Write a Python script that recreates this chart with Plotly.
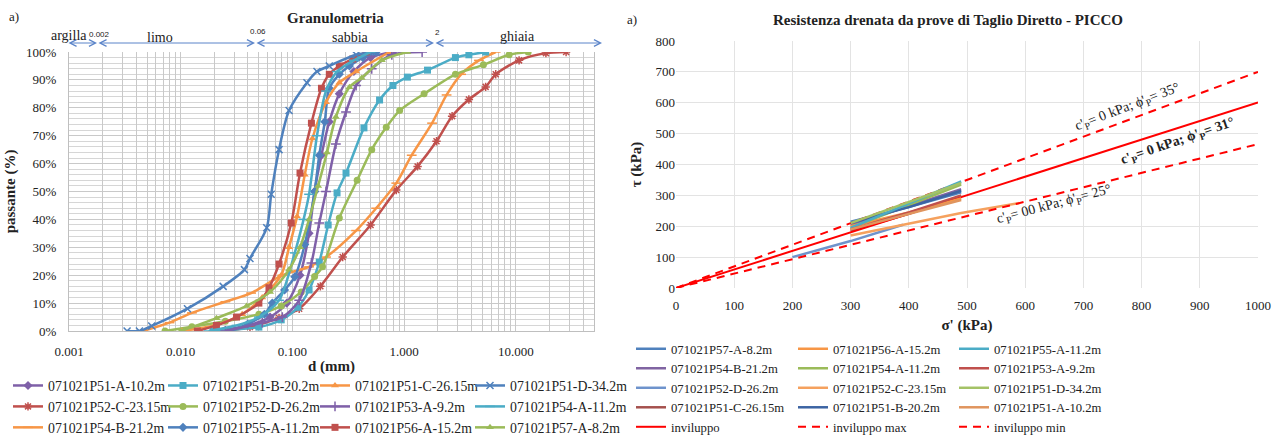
import plotly.graph_objects as go

# ---------------- Granulometria (left) : d (mm) vs passante (%) ----------------
g_names = ["071021P51-A-10.2m", "071021P51-B-20.2m", "071021P51-C-26.15m", "071021P51-D-34.2m",
           "071021P52-C-23.15m", "071021P52-D-26.2m", "071021P53-A-9.2m", "071021P54-A-11.2m",
           "071021P54-B-21.2m", "071021P55-A-11.2m", "071021P56-A-15.2m", "071021P57-A-8.2m"]

d_P51A = [0.0200, 0.0398, 0.0631, 0.0891, 0.117, 0.141, 0.158, 0.182, 0.214, 0.263, 0.355, 0.501, 0.794]
p_P51A = [0, 2, 5, 10, 20, 35, 50, 63, 75, 85, 93, 98, 100]
d_P51B = [0.0195, 0.0501, 0.0794, 0.112, 0.141, 0.174, 0.209, 0.251, 0.302, 0.437, 0.603, 0.794, 1.07, 1.62, 2.88, 3.80, 5.37]
p_P51B = [0, 1.4, 4, 8.5, 14.7, 24.7, 38, 49.5, 56.6, 72.8, 82.8, 88, 91, 93.5, 98, 99, 100]
d_P51C = [0.0102, 0.0200, 0.0355, 0.0537, 0.0794, 0.0933, 0.110, 0.129, 0.151, 0.200, 0.263, 0.372, 0.741]
p_P51C = [0, 2, 6, 12, 20, 30, 41, 56, 69, 82, 89, 93, 100]
d_P51D = [0.00331, 0.00427, 0.00550, 0.0115, 0.0240, 0.0372, 0.0417, 0.0589, 0.0646, 0.0759, 0.0933, 0.135, 0.166, 0.214, 0.372, 0.562]
p_P51D = [0, 0, 1.8, 8, 16, 22, 26, 37, 49, 65, 79, 89, 93, 95, 99, 100]
d_P52C = [0.0251, 0.0417, 0.0759, 0.115, 0.178, 0.282, 0.501, 0.851, 1.32, 1.95, 2.69, 3.80, 5.37, 6.61, 10.7, 18.6, 28.2]
p_P52C = [0, 1.4, 4.7, 8, 16, 26.5, 38, 50.5, 59, 68, 77, 83, 87.5, 92, 97, 99.6, 100]
d_P52D = [0.00724, 0.0126, 0.0251, 0.0501, 0.0794, 0.120, 0.158, 0.186, 0.263, 0.380, 0.513, 0.692, 0.912, 1.51, 2.88, 5.13, 8.71, 12.9]
p_P52D = [0, 1.5, 3.5, 6, 9, 14, 19.5, 23, 40.5, 54, 65, 73, 79, 85, 92, 95.4, 99, 100]
d_P53A = [0.0251, 0.0537, 0.0813, 0.115, 0.148, 0.174, 0.200, 0.245, 0.302, 0.372, 0.513, 0.776, 1.45]
p_P53A = [0, 3, 5, 11, 24.4, 38.7, 50, 67, 78.5, 88, 94, 99, 100]
d_P54A = [0.0178, 0.0316, 0.0501, 0.0759, 0.105, 0.126, 0.141, 0.166, 0.200, 0.251, 0.355, 0.501]
p_P54A = [0, 2, 5, 11, 28, 40, 49, 70, 86, 93, 97, 100]
d_P54B = [0.00457, 0.00794, 0.0126, 0.0251, 0.0427, 0.0813, 0.141, 0.200, 0.372, 0.562, 0.851, 1.17, 1.78, 2.40, 3.24, 4.68, 6.61]
p_P54B = [0, 3, 6.5, 10.5, 13.6, 20, 23, 26.5, 36, 44, 53, 63, 74.5, 84.6, 92, 97, 100]
d_P55A = [0.0275, 0.0398, 0.0562, 0.0661, 0.0851, 0.105, 0.129, 0.158, 0.174, 0.195, 0.214, 0.263, 0.324, 0.427, 0.562]
p_P55A = [0, 2.5, 6, 10, 14.7, 19.4, 31, 50, 63, 75, 87, 92, 95, 98, 100]
d_P56A = [0.0141, 0.0209, 0.0316, 0.0501, 0.0617, 0.0759, 0.0977, 0.117, 0.148, 0.182, 0.214, 0.263, 0.347, 0.457]
p_P56A = [0, 2, 5, 10, 15.5, 24, 38.7, 56.6, 74.5, 87, 92, 95, 97.5, 100]
d_P57A = [0.0100, 0.0209, 0.0389, 0.0631, 0.0933, 0.117, 0.141, 0.170, 0.204, 0.245, 0.324, 0.417, 0.631, 1.07]
p_P57A = [0, 4.6, 9, 14, 22, 30, 40, 52, 64, 76.7, 87.4, 90.7, 97, 100]

g_d = [d_P51A, d_P51B, d_P51C, d_P51D, d_P52C, d_P52D, d_P53A, d_P54A, d_P54B, d_P55A, d_P56A, d_P57A]
g_p = [p_P51A, p_P51B, p_P51C, p_P51D, p_P52C, p_P52D, p_P53A, p_P54A, p_P54B, p_P55A, p_P56A, p_P57A]

x_tick_labels = ["0.001", "0.010", "0.100", "1.000", "10.000"]
x_tick_values = [0.001, 0.01, 0.1, 1, 10]
class_names = ["argilla", "limo", "sabbia", "ghiaia"]
class_bounds = ["0.002", "0.06", "2"]

# ---------------- Taglio diretto (right) : sigma' vs tau ----------------
t_names = ["071021P57-A-8.2m", "071021P56-A-15.2m", "071021P55-A-11.2m", "071021P54-B-21.2m",
           "071021P54-A-11.2m", "071021P53-A-9.2m", "071021P52-D-26.2m", "071021P52-C-23.15m",
           "071021P51-D-34.2m", "071021P51-C-26.15m", "071021P51-B-20.2m", "071021P51-A-10.2m"]
t_sigma = [[300, 400, 490], [300, 400, 490], [300, 400, 490], [300, 400, 490],
           [300, 400, 490], [300, 400, 490], [200, 300, 390], [300, 490, 590],
           [300, 400, 490], [300, 400, 490], [300, 400, 490], [300, 400, 490]]
t_tau = [[215, 262, 310], [200, 245, 290], [195, 275, 345], [205, 265, 320],
         [195, 270, 335], [190, 245, 300], [100, 152, 205], [170, 243, 275],
         [210, 278, 340], [185, 240, 295], [210, 262, 315], [190, 240, 285]]

env_sigma = [0, 1000]
env_tau = [0, 601]
env_max_tau = [0, 700]
env_min_tau = [0, 466]

# ---------------- styling ----------------
FONT = "Liberation Serif"
g_colors = ["#7F60A8", "#4BACC6", "#F79646", "#4F81BD", "#C0504D", "#9BBB59",
            "#7F60A8", "#4BACC6", "#F79646", "#4F81BD", "#C0504D", "#9BBB59"]
g_symbols = ["diamond", "square", "triangle-up", "x-thin-open", "asterisk-open", "circle",
             "cross-thin-open", "line-ew-open", "line-ew-open", "diamond", "square", "triangle-up"]
g_legend = ["legend", "legend2", "legend3", "legend4", "legend", "legend2",
            "legend3", "legend4", "legend", "legend2", "legend3", "legend4"]
g_order = [0, 4, 8, 1, 5, 9, 2, 6, 10, 3, 7, 11]

t_colors = ["#4F81BD", "#F79646", "#4BACC6", "#8064A2", "#9BBB59", "#C0504D",
            "#6E93CC", "#F5A15E", "#A4C266", "#A5514E", "#3C64A3", "#E0955E"]
t_legend = ["legend5", "legend6", "legend7"] * 4

fig = go.Figure()

for i in g_order:
    open_sym = g_symbols[i].endswith("open")
    fig.add_trace(go.Scatter(
        x=g_d[i], y=g_p[i], name=g_names[i], mode="lines+markers",
        line=dict(color=g_colors[i], width=2.5, shape="spline", smoothing=0.8),
        marker=dict(symbol=g_symbols[i], size=7, color=g_colors[i],
                    line=dict(color=g_colors[i], width=1.5 if open_sym else 0)),
        xaxis="x", yaxis="y", legend=g_legend[i]))

for col in range(3):
    for row in range(4):
        i = row * 3 + col
        fig.add_trace(go.Scatter(
            x=t_sigma[i], y=t_tau[i], name=t_names[i], mode="lines",
            line=dict(color=t_colors[i], width=2.5),
            xaxis="x2", yaxis="y2", legend=t_legend[i]))
    if col == 0:
        fig.add_trace(go.Scatter(x=env_sigma, y=env_tau, name="inviluppo", mode="lines",
                                 line=dict(color="#FF0000", width=2), xaxis="x2", yaxis="y2",
                                 legend="legend5"))
    elif col == 1:
        fig.add_trace(go.Scatter(x=env_sigma, y=env_max_tau, name="inviluppo max", mode="lines",
                                 line=dict(color="#FF0000", width=2, dash="8px,6px"),
                                 xaxis="x2", yaxis="y2", legend="legend6"))
    else:
        fig.add_trace(go.Scatter(x=env_sigma, y=env_min_tau, name="inviluppo min", mode="lines",
                                 line=dict(color="#FF0000", width=2, dash="8px,6px"),
                                 xaxis="x2", yaxis="y2", legend="legend7"))

W, H = 1274, 439
def px(x):
    return x / W
def py(y):
    return 1 - y / H

# all log grid values
grid_vals = []
for dec in [0.001, 0.01, 0.1, 1, 10]:
    for m in range(1, 10):
        v = round(dec * m, 6)
        if v <= 50:
            grid_vals.append(v)
grid_text = [x_tick_labels[x_tick_values.index(v)] if v in x_tick_values else "" for v in grid_vals]

tickfont = dict(family=FONT, size=13, color="#222")
fig.update_layout(
    width=W, height=H, margin=dict(l=0, r=0, t=0, b=0, autoexpand=False),
    paper_bgcolor="white", plot_bgcolor="white",
    font=dict(family=FONT, size=13, color="#222"),
    xaxis=dict(domain=[px(69), px(594)], type="log", range=[-3, 1.7],
               tickvals=grid_vals, ticktext=grid_text, showgrid=True, gridcolor="#C9C9C9",
               gridwidth=1, zeroline=False, showline=True, linecolor="#BFBFBF", ticks="",
               ticklabelstandoff=8,
               tickfont=tickfont, automargin=False,
               title=dict(text="<b>d (mm)</b>", font=dict(family=FONT, size=15), standoff=2),
               anchor="y"),
    yaxis=dict(domain=[py(331), py(52)], range=[0, 100], dtick=10, ticksuffix="%",
               showgrid=True, gridcolor="#C9C9C9", zeroline=False, ticks="",
               minor=dict(dtick=2, showgrid=True, gridcolor="#D6D6D6"),
               showline=True, linecolor="#BFBFBF", mirror=True, ticklabelstandoff=9,
               tickfont=tickfont, automargin=False,
               title=dict(text="<b>passante (%)</b>", font=dict(family=FONT, size=15), standoff=6),
               anchor="x"),
    xaxis2=dict(domain=[px(676), px(1258)], range=[0, 1000], dtick=100, showgrid=True,
                gridcolor="#E3E3E3", zeroline=False, ticks="", tickfont=tickfont,
                ticklabelstandoff=8,
                automargin=False, anchor="y2",
                title=dict(text="<b>σ' (kPa)</b>", font=dict(family=FONT, size=15), standoff=7)),
    yaxis2=dict(domain=[py(288), py(41)], range=[0, 800], dtick=100, showgrid=True,
                gridcolor="#E3E3E3", zeroline=False, ticks="", tickfont=tickfont,
                automargin=False, anchor="x2",
                title=dict(text="<b>τ (kPa)</b>", font=dict(family=FONT, size=15), standoff=10)),
    showlegend=True,
)

leg_common = dict(orientation="v", xanchor="left", yanchor="top", bgcolor="rgba(0,0,0,0)",
                  itemwidth=30, tracegroupgap=0)
left_x = [8, 163, 315, 470]
for k, name in enumerate(["legend", "legend2", "legend3", "legend4"]):
    fig.update_layout({name: dict(x=px(left_x[k]), y=py(370), font=dict(family=FONT, size=13.8, color="#222"),
                                  **leg_common)})
right_x = [631, 793, 954]
for k, name in enumerate(["legend5", "legend6", "legend7"]):
    fig.update_layout({name: dict(x=px(right_x[k]), y=py(334), font=dict(family=FONT, size=12.7, color="#222"),
                                  **leg_common)})

ann = []
# titles
ann.append(dict(text="<b>Granulometria</b>", x=px(335), y=py(18), xref="paper", yref="paper",
                xanchor="center", yanchor="middle",
                showarrow=False, font=dict(family=FONT, size=15)))
ann.append(dict(text="a)", x=px(14), y=py(17), xref="paper", yref="paper",
                xanchor="center", yanchor="middle",
                showarrow=False, font=dict(family=FONT, size=13)))
ann.append(dict(text="<b>Resistenza drenata da prove di Taglio Diretto - PICCO</b>", x=px(948), y=py(20),
                xref="paper", yref="paper", xanchor="center", yanchor="middle",
                showarrow=False, font=dict(family=FONT, size=15)))
ann.append(dict(text="a)", x=px(632), y=py(20), xref="paper", yref="paper",
                xanchor="center", yanchor="middle",
                showarrow=False, font=dict(family=FONT, size=13)))

# soil class arrows above granulometria (pixel positions of the drawn scale)
seg_px = [67, 97, 255, 434, 602]
line_y = 43
for a, b in zip(seg_px[:-1], seg_px[1:]):
    ann.append(dict(x=px(b), y=py(line_y), xref="paper", yref="paper",
                    ax=-(b - a), ay=0, axref="pixel", ayref="pixel",
                    text="", showarrow=True, arrowside="end+start", arrowhead=5, arrowsize=1.3,
                    arrowwidth=1, arrowcolor="#5B84C9", standoff=0, startstandoff=0))
cls_pos = [(69, 35), (160, 37), (351, 37), (517, 36)]
for nm, (xx, yy) in zip(class_names, cls_pos):
    ann.append(dict(text=nm, x=px(xx), y=py(yy), xref="paper", yref="paper", showarrow=False,
                    xanchor="center", yanchor="middle", font=dict(family=FONT, size=14)))
bnd_pos = [(99, 34), (258, 31), (437, 32)]
for nm, (xx, yy) in zip(class_bounds, bnd_pos):
    ann.append(dict(text=nm, x=px(xx), y=py(yy), xref="paper", yref="paper", showarrow=False,
                    xanchor="center", yanchor="middle",
                    font=dict(family="Liberation Sans", size=8)))

# envelope labels
ann.append(dict(text="c'<sub>P</sub>= 0 kPa; ϕ'<sub>P</sub>= 35°", x=775, y=585, xref="x2", yref="y2",
                showarrow=False, textangle=-21, font=dict(family=FONT, size=14)))
ann.append(dict(text="<b>c'<sub>P</sub>= 0 kPa; ϕ'<sub>P</sub>= 31°</b>", x=862, y=475, xref="x2", yref="y2",
                showarrow=False, textangle=-19, font=dict(family=FONT, size=14)))
ann.append(dict(text="c'<sub>P</sub>= 00 kPa; ϕ'<sub>P</sub>= 25°", x=650, y=272, xref="x2", yref="y2",
                showarrow=False, textangle=-15, font=dict(family=FONT, size=14)))
fig.update_layout(annotations=ann)

fig.write_html("out.html")
